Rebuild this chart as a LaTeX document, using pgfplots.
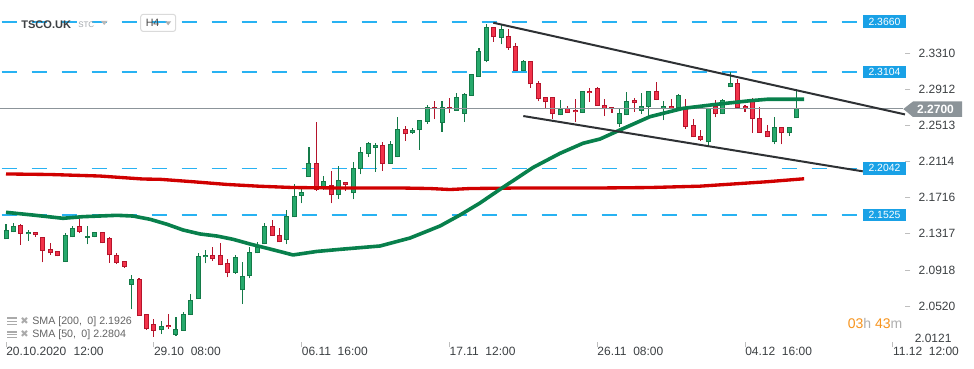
\documentclass[border=0pt]{standalone}
\usepackage{pgfplots}
\pgfplotsset{compat=1.18}
\usepackage{pgfplotstable}
\usepackage{fontspec}
\setmainfont{Liberation Sans}
\newfontfamily\symfont{DejaVu Sans}
\definecolor{gfill}{RGB}{38,169,108}
\definecolor{gline}{RGB}{20,122,72}
\definecolor{rfill}{RGB}{242,51,74}
\definecolor{rline}{RGB}{181,20,43}
\definecolor{smaG}{RGB}{8,128,76}
\definecolor{smaR}{RGB}{208,0,0}
\definecolor{dashblue}{RGB}{40,178,242}
\definecolor{boxblue}{RGB}{25,161,230}
\definecolor{flaggrey}{RGB}{140,148,153}
\definecolor{txt}{RGB}{60,64,67}
\definecolor{trend}{RGB}{46,49,52}
\definecolor{orangeT}{RGB}{247,148,29}
\definecolor{legtxt}{RGB}{100,100,100}
\definecolor{tickgrey}{RGB}{190,190,190}
\definecolor{stcgrey}{RGB}{160,165,170}
\definecolor{trigrey}{RGB}{185,185,185}
\definecolor{boxborder}{RGB}{218,218,218}
\definecolor{htxt}{RGB}{70,70,70}
\definecolor{trigrey2}{RGB}{175,175,175}
\definecolor{icongrey}{RGB}{170,170,170}

\pgfplotstableread{
i o h l c
0 2.1257 2.1426 2.1257 2.1360
1 2.1334 2.1437 2.1334 2.1404
3 2.1312 2.1363 2.1241 2.1338
8 2.1006 2.1323 2.1006 2.1304
9 2.1278 2.1404 2.1278 2.1387
11 2.1271 2.1404 2.1202 2.1293
12 2.1285 2.1343 2.1278 2.1338
17 2.0757 2.0860 2.0483 2.0818
21 2.0251 2.0357 2.0210 2.0299
23 2.0199 2.0402 2.0192 2.0266
24 2.0247 2.0450 2.0247 2.0432
25 2.0420 2.0649 2.0420 2.0586
26 2.0601 2.1102 2.0601 2.1072
27 2.1058 2.1139 2.0992 2.1083
31 2.0890 2.1083 2.0874 2.1061
32 2.0693 2.1010 2.0542 2.0851
33 2.0848 2.1175 2.0826 2.1113
34 2.1102 2.1227 2.1102 2.1175
35 2.1202 2.1437 2.1202 2.1401
38 2.1249 2.1581 2.1202 2.1518
39 2.1500 2.1865 2.1500 2.1739
40 2.1739 2.1827 2.1655 2.1776
41 2.1943 2.2275 2.1943 2.2098
43 2.1832 2.1956 2.1802 2.1901
45 2.1743 2.2067 2.1706 2.1909
47 2.1765 2.2116 2.1699 2.2041
48 2.2030 2.2277 2.1975 2.2222
49 2.2203 2.2335 2.2170 2.2318
50 2.2269 2.2318 2.2004 2.2296
52 2.2093 2.2343 2.2093 2.2310
53 2.2163 2.2608 2.2163 2.2472
55 2.2428 2.2483 2.2420 2.2461
56 2.2461 2.2572 2.2247 2.2572
57 2.2556 2.2741 2.2534 2.2716
59 2.2545 2.2785 2.2446 2.2716
61 2.2678 2.2870 2.2678 2.2826
62 2.2646 2.2870 2.2556 2.2859
63 2.2844 2.3080 2.2844 2.3080
64 2.3055 2.3367 2.3055 2.3338
65 2.3230 2.3633 2.3213 2.3600
67 2.3485 2.3625 2.3412 2.3577
70 2.3120 2.3238 2.3120 2.3227
75 2.2627 2.2796 2.2627 2.2693
78 2.2650 2.2892 2.2650 2.2892
83 2.2528 2.2704 2.2501 2.2650
84 2.2627 2.2881 2.2627 2.2782
86 2.2678 2.2874 2.2642 2.2727
87 2.2722 2.2892 2.2619 2.2892
89 2.2697 2.2788 2.2575 2.2730
91 2.2711 2.2866 2.2711 2.2855
95 2.2329 2.2711 2.2299 2.2711
97 2.2638 2.2807 2.2638 2.2796
98 2.2937 2.3102 2.2937 2.2981
104 2.2329 2.2612 2.2307 2.2495
106 2.2428 2.2495 2.2402 2.2495
107 2.2594 2.2918 2.2594 2.2704
}\greentab

\pgfplotstableread{
i o h l c
2 2.1415 2.1426 2.1197 2.1316
4 2.1334 2.1334 2.1285 2.1300
5 2.1278 2.1278 2.1001 2.1133
6 2.1146 2.1213 2.1087 2.1102
7 2.1133 2.1133 2.1067 2.1067
10 2.1404 2.1478 2.1323 2.1338
13 2.1334 2.1334 2.1213 2.1213
14 2.1268 2.1278 2.0998 2.1078
15 2.1084 2.1109 2.0982 2.0998
16 2.1017 2.1017 2.0943 2.0954
18 2.0818 2.0833 2.0407 2.0407
19 2.0428 2.0428 2.0255 2.0262
20 2.0319 2.0378 2.0181 2.0247
22 2.0308 2.0429 2.0270 2.0285
28 2.1084 2.1172 2.1020 2.1036
29 2.1084 2.1213 2.0970 2.0970
30 2.0992 2.1036 2.0835 2.0890
36 2.1401 2.1470 2.1293 2.1293
37 2.1300 2.1378 2.1224 2.1224
42 2.2098 2.2550 2.1794 2.1802
44 2.1860 2.2015 2.1655 2.1743
46 2.1887 2.1887 2.1794 2.1857
51 2.2296 2.2332 2.2015 2.2093
54 2.2472 2.2509 2.2346 2.2417
58 2.2719 2.2782 2.2586 2.2697
60 2.2716 2.2815 2.2656 2.2697
66 2.3600 2.3600 2.3440 2.3489
68 2.3503 2.3577 2.3349 2.3367
69 2.3393 2.3423 2.3120 2.3120
71 2.3224 2.3224 2.2932 2.2970
72 2.2981 2.3006 2.2780 2.2804
73 2.2826 2.2826 2.2711 2.2769
74 2.2826 2.2826 2.2590 2.2638
76 2.2704 2.2730 2.2650 2.2650
77 2.2686 2.2807 2.2556 2.2660
79 2.2896 2.2929 2.2777 2.2870
80 2.2929 2.2940 2.2733 2.2733
81 2.2741 2.2804 2.2619 2.2700
82 2.2716 2.2716 2.2656 2.2693
85 2.2796 2.2815 2.2667 2.2760
88 2.2896 2.2995 2.2796 2.2796
90 2.2730 2.2807 2.2700 2.2700
92 2.2716 2.2807 2.2476 2.2501
93 2.2520 2.2586 2.2384 2.2384
94 2.2398 2.2465 2.2343 2.2354
96 2.2730 2.2793 2.2605 2.2638
99 2.2981 2.3025 2.2711 2.2711
100 2.2730 2.2744 2.2667 2.2700
101 2.2796 2.2822 2.2435 2.2583
102 2.2594 2.2719 2.2435 2.2435
103 2.2454 2.2520 2.2384 2.2384
105 2.2495 2.2495 2.2307 2.2428
108 2.2711 2.2711 2.2697 2.2700
}\redtab

\pgfplotstableread{
i p
0 2.1979
5.95 2.1973
12.72 2.1956
18.54 2.1923
20.84 2.1920
25.30 2.1893
29.90 2.1863
34.37 2.1843
38.84 2.1829
45.20 2.1824
53.32 2.1824
57.37 2.1818
60.08 2.1807
62.79 2.1818
69.55 2.1824
80.38 2.1824
87.14 2.1829
93.91 2.1844
102.98 2.1893
108 2.1926
}\smaslow

\pgfplotstableread{
i p
0 2.1555
3.65 2.1525
7.71 2.1489
10.42 2.1507
15.02 2.1522
17.19 2.1514
19.49 2.1478
21.79 2.1423
23.95 2.1360
26.25 2.1316
28.55 2.1293
30.72 2.1257
33.02 2.1205
35.32 2.1158
37.48 2.1113
38.84 2.1084
42.08 2.1123
45.20 2.1146
50.61 2.1183
54.67 2.1271
58.73 2.1404
61.43 2.1525
64.14 2.1658
66.85 2.1809
71.31 2.2050
74.97 2.2207
78.08 2.2318
80.38 2.2365
83.09 2.2465
87.14 2.2612
91.61 2.2704
96.21 2.2749
100.68 2.2788
102.98 2.2804
108 2.2804
}\smafast

\pgfplotsset{candle/.style={draw=none, no marks, forget plot}}

\begin{document}
\begin{tikzpicture}
\fill[white] (0,-19.5pt) rectangle (730.5pt,256.5pt);
\useasboundingbox (0,-19.5pt) rectangle (730.5pt,256.5pt);
\begin{axis}[
  at={(0,0)}, anchor=south west,
  scale only axis, width=678.75pt, height=256.5pt,
  xmin=-0.812, xmax=121.65, ymin=2.01221, ymax=2.39012,
  axis line style={draw=none},
  clip=false,
  xtick={0,20,40,60,80,100,120},
  xticklabels={20.10.2020\hspace{5.5pt}12:00,29.10\hspace{5pt}08:00,06.11\hspace{5pt}16:00,17.11\hspace{5pt}12:00,26.11\hspace{5pt}08:00,04.12\hspace{5pt}16:00,11.12\hspace{5pt}12:00},
  ytick={2.3310,2.2912,2.2513,2.2114,2.1716,2.1317,2.0918,2.0520},
  yticklabels={2.3310,2.2912,2.2513,2.2114,2.1716,2.1317,2.0918,2.0520},
  xtick pos=left, ytick pos=right,
  xticklabel pos=left, yticklabel pos=right,
  tick align=outside,
  major tick length=4pt,
  tick style={draw=tickgrey, line width=0.7pt},
  ticklabel style={font=\fontsize{9}{10}\selectfont, text=txt},
  yticklabel style={anchor=west, inner sep=0pt, xshift=6pt},
  xticklabel style={anchor=north west, inner sep=0pt},
]
% horizontal level lines
\foreach \lv in {2.3660,2.3104,2.2042,2.1525}{
  \edef\tmp{\noexpand\addplot[dashblue, line width=1.1pt, dash pattern=on 11.7pt off 10.8pt, dash phase=21.2pt, forget plot] coordinates {(-0.812,\lv) (115.29,\lv)};}
  \tmp
}
% wicks
\addplot[candle,
  error bars/.cd, y dir=plus, y explicit, error mark=none,
  error bar style={draw=gline, line width=0.8pt}]
  table[x=i, y=l, y error plus expr=\thisrow{h}-\thisrow{l}] {\greentab};
\addplot[candle,
  error bars/.cd, y dir=plus, y explicit, error mark=none,
  error bar style={draw=rline, line width=0.8pt}]
  table[x=i, y=l, y error plus expr=\thisrow{h}-\thisrow{l}] {\redtab};
% bodies (outline)
\addplot[candle,
  error bars/.cd, y dir=plus, y explicit, error mark=none,
  error bar style={draw=gline, line width=3.75pt}]
  table[x=i, y=o, y error plus expr={max(\thisrow{c}-\thisrow{o},0.0011)}] {\greentab};
\addplot[candle,
  error bars/.cd, y dir=plus, y explicit, error mark=none,
  error bar style={draw=rline, line width=3.75pt}]
  table[x=i, y=c, y error plus expr={max(\thisrow{o}-\thisrow{c},0.0011)}] {\redtab};
% bodies (fill)
\addplot[candle,
  error bars/.cd, y dir=plus, y explicit, error mark=none,
  error bar style={draw=gfill, line width=2.25pt}]
  table[x=i, y expr=\thisrow{o}+0.0011, y error plus expr={max(\thisrow{c}-\thisrow{o}-0.0022,0)}] {\greentab};
\addplot[candle,
  error bars/.cd, y dir=plus, y explicit, error mark=none,
  error bar style={draw=rfill, line width=2.25pt}]
  table[x=i, y expr=\thisrow{c}+0.0011, y error plus expr={max(\thisrow{o}-\thisrow{c}-0.0022,0)}] {\redtab};
% current price line
\addplot[flaggrey, line width=0.75pt, forget plot] coordinates {(-0.812,2.2700) (121.4,2.2700)};
% moving averages
\addplot[smaR, line width=2.5pt, line join=round, forget plot] table[x=i, y=p] {\smaslow};
\addplot[smaG, line width=2.7pt, line join=round, forget plot] table[x=i, y=p] {\smafast};
% trend lines
\addplot[trend, line width=1.5pt, forget plot] coordinates {(65.94,2.3650) (121.65,2.2637)};
\addplot[trend, line width=1.5pt, forget plot] coordinates {(70.0,2.2619) (115.93,2.2008)};
\end{axis}
\begin{scope}[x=0.75pt, y=-0.75pt, yshift=256.5pt]
% bottom y label
\node[anchor=west, inner sep=0pt, font=\fontsize{9}{10}\selectfont, text=txt] at (914.5,338.3) {2.0121};
% blue level boxes
\foreach \yy/\lab in {21.8/2.3660, 72.1/2.3104, 168.2/2.2042, 215.0/2.1525}{
  \node[anchor=west, fill=boxblue, text=white, inner sep=0pt, minimum width=32.25pt, minimum height=9.6pt, font=\fontsize{7.8}{8}\selectfont] at (862.7,\yy) {\lab};
}
% price flag
\fill[flaggrey] (903.3,109.0) -- (913,101.5) -- (962,101.5) -- (962,117) -- (913,117) -- cycle;
\node[anchor=center, inner sep=0pt, text=white, font=\bfseries\fontsize{9}{10}\selectfont] at (935.5,109.3) {2.2700};
% header
\node[anchor=west, inner sep=0pt, text=txt, font=\bfseries\fontsize{8.3}{9}\selectfont] at (21,24.3) {TSCO.UK};
\node[anchor=west, inner sep=0pt, text=stcgrey, font=\fontsize{6}{6}\selectfont] at (78,25.2) {STC};
\fill[trigrey] (101,21) -- (107.5,21) -- (104.25,25) -- cycle;
\draw[boxborder, line width=0.75pt, rounded corners=2pt] (140.7,14.3) rectangle (175.7,31.5);
\node[anchor=west, inner sep=0pt, text=htxt, font=\fontsize{8}{9}\selectfont] at (145.5,23.3) {H4};
\fill[trigrey2] (165.3,21.5) -- (171,21.5) -- (168.15,25.3) -- cycle;
% legend
\foreach \yy/\lab in {321.7/{SMA [200,\hspace{4pt}0] 2.1926}, 335.0/{SMA [50,\hspace{4pt}0] 2.2804}}{
  \fill[icongrey] (7,\yy-4.5) rectangle (16.5,\yy-2.5);
  \fill[icongrey] (7,\yy-1) rectangle (16.5,\yy+0.3);
  \fill[icongrey] (7,\yy+1.8) rectangle (16.5,\yy+3.1);
  \node[anchor=center, inner sep=0pt, text=icongrey, font=\symfont\fontsize{7.5}{8}\selectfont] at (24.5,\yy-0.7) {✖};
  \node[anchor=west, inner sep=0pt, text=legtxt, font=\fontsize{8}{8.5}\selectfont] at (32,\yy) {\lab};
}
% countdown
\node[anchor=west, inner sep=0pt, font=\fontsize{10.5}{11}\selectfont] at (847.5,323) {\textcolor{orangeT}{03}\textcolor{trigrey2}{h} \textcolor{orangeT}{43}\textcolor{trigrey2}{m}};
\end{scope}
\end{tikzpicture}
\end{document}
